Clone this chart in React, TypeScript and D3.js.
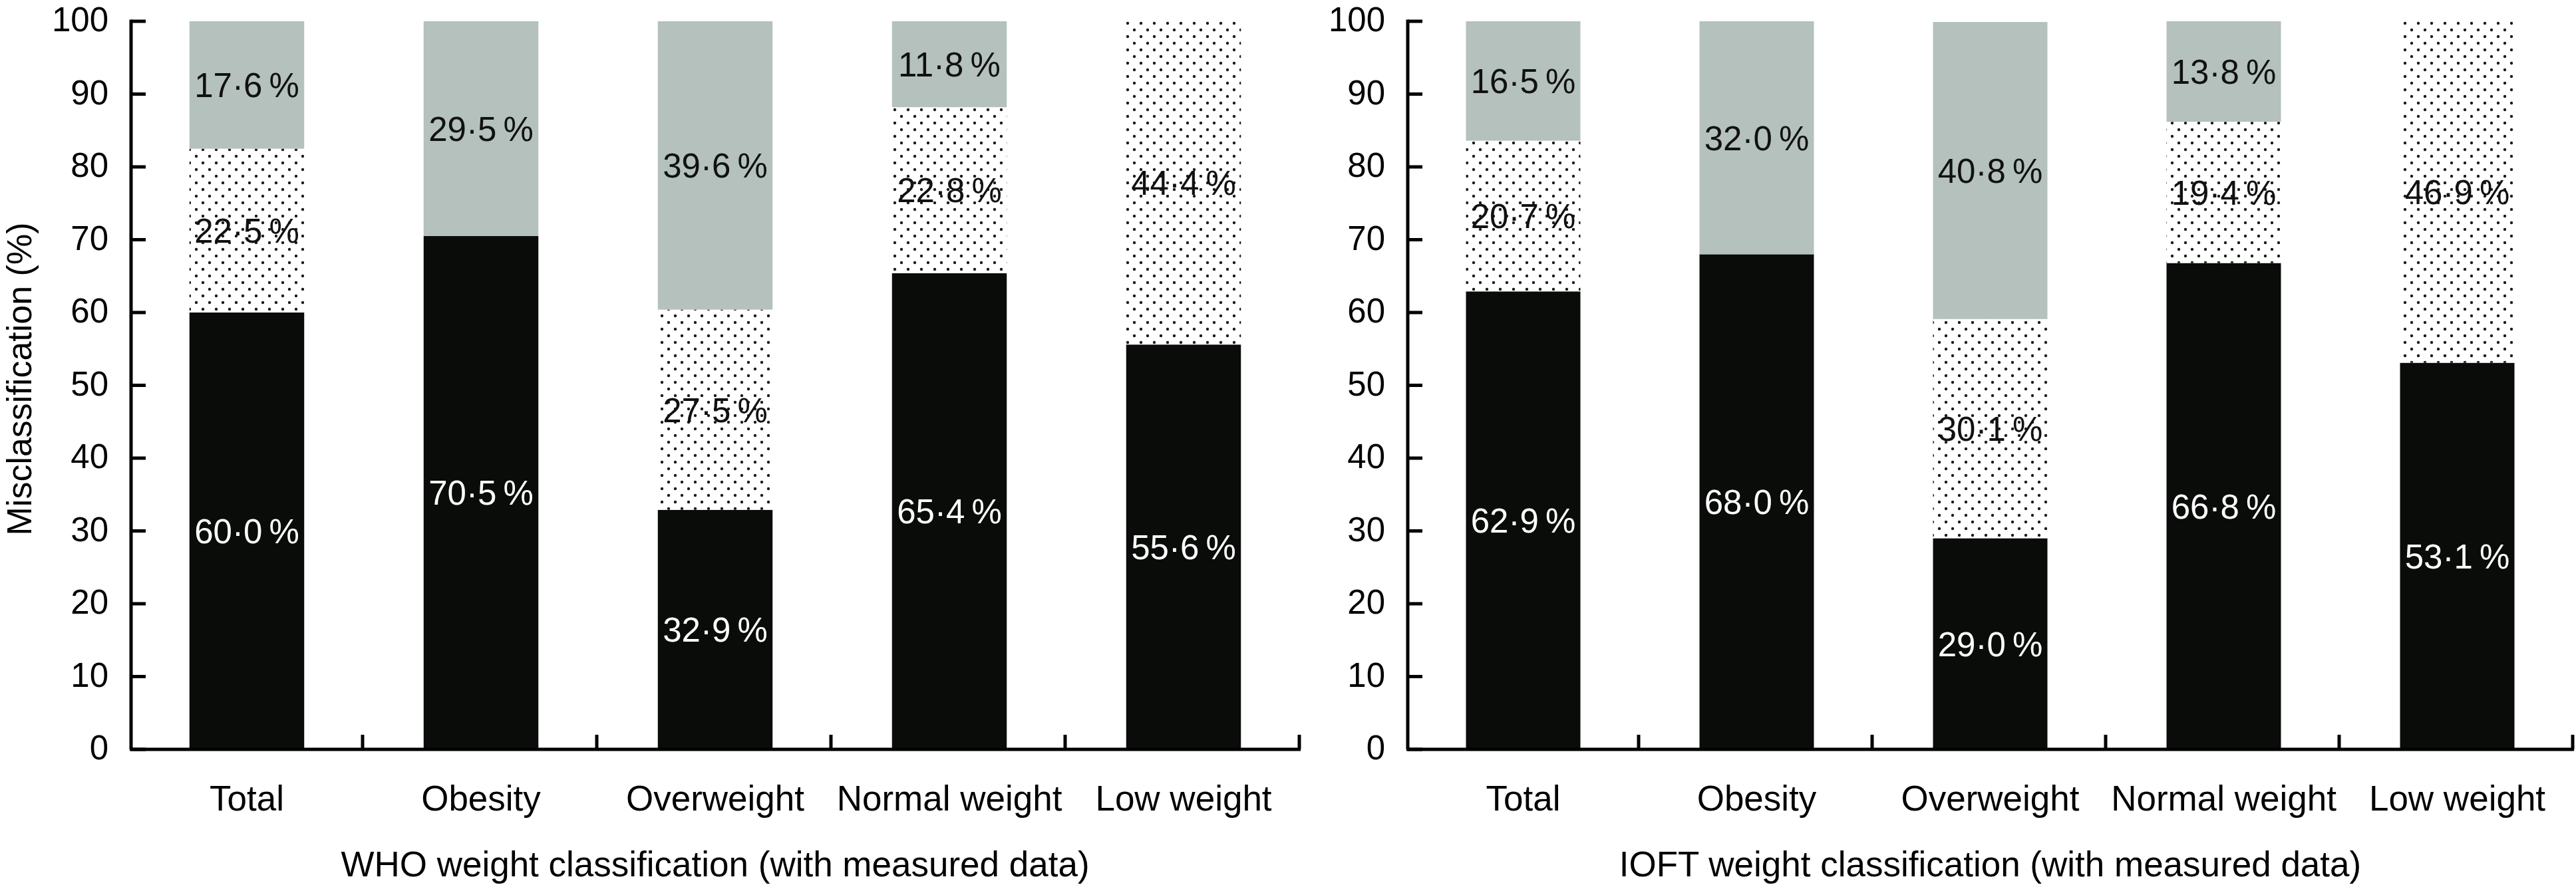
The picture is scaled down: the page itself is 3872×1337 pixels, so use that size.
import React from "react";
import * as d3 from "d3";

const categories = ["Total", "Obesity", "Overweight", "Normal weight", "Low weight"];
const whoCorrect = [60.0, 70.5, 32.9, 65.4, 55.6];
const whoOver = [22.5, 0, 27.5, 22.8, 44.4];
const whoUnder = [17.6, 29.5, 39.6, 11.8, 0];
const ioftCorrect = [62.9, 68.0, 29.0, 66.8, 53.1];
const ioftOver = [20.7, 0, 30.1, 19.4, 46.9];
const ioftUnder = [16.5, 32.0, 40.8, 13.8, 0];
const yTicks = [0, 10, 20, 30, 40, 50, 60, 70, 80, 90, 100];
const yTitle = "Misclassification (%)";
const whoTitle = "WHO weight classification (with measured data)";
const ioftTitle = "IOFT weight classification (with measured data)";

const W = 3872;
const H = 1337;
const FONT = "'Liberation Sans', Arial, Helvetica, sans-serif";
const BLACK = "#0a0c0a";
const GREY = "#b4c1bd";
const keys = ["correct", "over", "under"];

function buildRows(c: number[], o: number[], u: number[]) {
  return categories.map((cat, i) => ({ cat, correct: c[i], over: o[i], under: u[i] }));
}

const fmt = (v: number) => d3.format(".1f")(v).replace(".", "\u00b7") + "\u2009%";

function Panel({ x0, x1, rows, title }: { x0: number; x1: number; rows: any[]; title: string }) {
  const y = d3.scaleLinear().domain([0, 100]).range([1127, 32]);
  const x = d3
    .scaleBand<string>()
    .domain(categories)
    .range([x0, x1])
    .paddingInner(0.51)
    .paddingOuter(0.255);
  const stack = d3.stack<any>().keys(keys)(rows);
  const fills: Record<string, string> = { correct: BLACK, over: "url(#dots)", under: GREY };
  const textFill: Record<string, string> = { correct: "#ffffff", over: "#111", under: "#111" };
  const step = (x1 - x0) / categories.length;
  const axisX = x0 + 2;
  return (
    <g>
      {stack.map((layer) => (
        <g key={layer.key}>
          {layer.map((d, i) =>
            d[1] - d[0] > 0 ? (
              <rect
                key={i}
                x={x(categories[i])}
                width={x.bandwidth()}
                y={y(Math.min(d[1], 100))}
                height={y(d[0]) - y(Math.min(d[1], 100))}
                fill={fills[layer.key]}
              />
            ) : null
          )}
        </g>
      ))}
      {stack.map((layer) => (
        <g key={"t" + layer.key}>
          {layer.map((d, i) =>
            d[1] - d[0] > 0 ? (
              <text
                key={i}
                x={(x(categories[i]) as number) + x.bandwidth() / 2}
                y={y((d[0] + Math.min(d[1], 100)) / 2)}
                dy="0.36em"
                textAnchor="middle"
                fontFamily={FONT}
                fontSize={51}
                fill={textFill[layer.key]}
              >
                {fmt(d[1] - d[0])}
              </text>
            ) : null
          )}
        </g>
      ))}
      {/* y axis */}
      <line x1={axisX} x2={axisX} y1={y(0)} y2={y(100) - 2.5} stroke="#000" strokeWidth={5} />
      {yTicks.map((t) => (
        <g key={t}>
          <line x1={axisX} x2={axisX + 22} y1={y(t)} y2={y(t)} stroke="#000" strokeWidth={5} />
          <text
            x={x0 - 32}
            y={y(t)}
            dy="0.3em"
            textAnchor="end"
            fontFamily={FONT}
            fontSize={51}
            fill="#000"
          >
            {t}
          </text>
        </g>
      ))}
      {/* x axis */}
      <line x1={x0} x2={x1} y1={y(0)} y2={y(0)} stroke="#000" strokeWidth={5} />
      {categories.map((c, i) => (
        <line
          key={"xt" + i}
          x1={x0 + step * (i + 1) - 2}
          x2={x0 + step * (i + 1) - 2}
          y1={y(0)}
          y2={y(0) - 22}
          stroke="#000"
          strokeWidth={5}
        />
      ))}
      {categories.map((c) => (
        <text
          key={"xl" + c}
          x={(x(c) as number) + x.bandwidth() / 2}
          y={1219}
          textAnchor="middle"
          fontFamily={FONT}
          fontSize={53}
          fill="#000"
        >
          {c}
        </text>
      ))}
      <text x={(x0 + x1) / 2} y={1318} textAnchor="middle" fontFamily={FONT} fontSize={53} fill="#000">
        {title}
      </text>
    </g>
  );
}

export default function App() {
  const whoRows = buildRows(whoCorrect, whoOver, whoUnder);
  const ioftRows = buildRows(ioftCorrect, ioftOver, ioftUnder);
  return (
    <svg
      width={W}
      height={H}
      viewBox={`0 0 ${W} ${H}`}
      style={{ position: "absolute", left: 0, top: 0, background: "#fff" }}
    >
      <defs>
        <pattern id="dots" width={20} height={20} patternUnits="userSpaceOnUse">
          <rect width={20} height={20} fill="#fff" />
          <circle cx={5} cy={5} r={2.2} fill="#1a1a1a" />
          <circle cx={15} cy={15} r={2.2} fill="#1a1a1a" />
        </pattern>
      </defs>
      <rect width={W} height={H} fill="#fff" />
      <text
        transform={`translate(47, 570) rotate(-90)`}
        textAnchor="middle"
        fontFamily={FONT}
        fontSize={52}
        fill="#000"
      >
        {yTitle}
      </text>
      <Panel x0={195} x1={1955} rows={whoRows} title={whoTitle} />
      <Panel x0={2114} x1={3869} rows={ioftRows} title={ioftTitle} />
    </svg>
  );
}
